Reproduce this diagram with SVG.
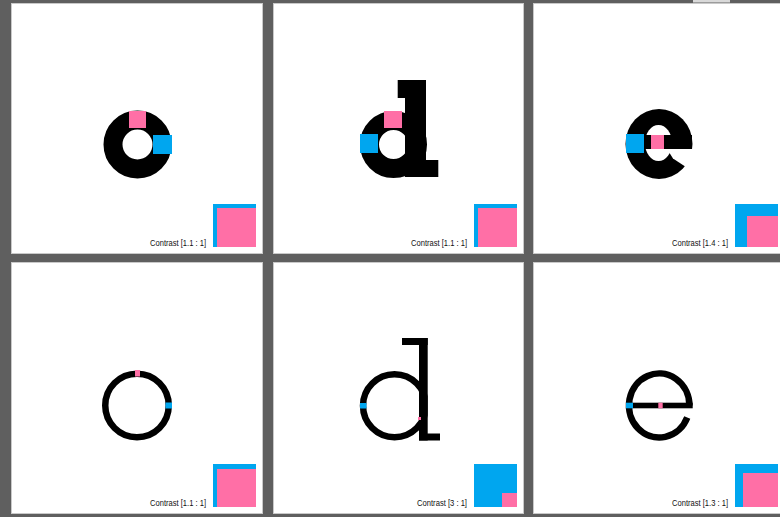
<svg xmlns="http://www.w3.org/2000/svg" width="780" height="517" viewBox="0 0 780 517">
  <style>
    .panel { fill: #ffffff; stroke: #c9c9c9; stroke-width: 1; }
    .ink { fill: #000000; }
    .ring { fill: none; stroke: #000000; }
    .pink { fill: #ff6fa6; }
    .blue { fill: #00a6ef; }
    .lbl { font-family: "Liberation Sans", Arial, sans-serif; font-size: 8.6px; fill: #111111; text-anchor: end; }
  </style>
  <defs>
    <clipPath id="clipD">
      <rect x="350" y="330" width="77.7" height="120"/>
    </clipPath>
  </defs>
  <rect x="0" y="0" width="780" height="517" fill="#5f5f5f"/>
  <rect x="693" y="0" width="37" height="2.5" fill="#d9d9d9"/>

  <g id="panel-bold-o">
    <rect class="panel" x="11.5" y="3.5" width="251" height="250"/>
    <circle class="ring" cx="137.5" cy="144.5" r="24.5" stroke-width="19"/>
    <rect class="pink" x="129" y="111" width="17" height="17"/>
    <rect class="blue" x="153" y="135" width="19" height="19"/>
    <rect class="blue" x="213" y="204" width="43" height="43"/>
    <rect class="pink" x="217" y="208" width="39" height="39"/>
    <text class="lbl" x="206" y="246" textLength="56" lengthAdjust="spacingAndGlyphs">Contrast [1.1 : 1]</text>
  </g>

  <g id="panel-bold-d">
    <rect class="panel" x="273.5" y="3.5" width="250" height="250"/>
    <circle class="ring" cx="393.5" cy="144.5" r="24" stroke-width="19"/>
    <rect class="ink" x="397.7" y="80" width="28.3" height="18"/>
    <rect class="ink" x="405" y="80" width="21" height="97"/>
    <rect class="ink" x="405" y="160" width="33.3" height="17"/>
    <rect class="pink" x="384" y="111" width="18" height="17"/>
    <rect class="blue" x="360" y="134" width="18" height="19"/>
    <rect class="blue" x="474" y="204" width="43" height="43"/>
    <rect class="pink" x="478" y="208" width="39" height="39"/>
    <text class="lbl" x="467" y="246" textLength="56" lengthAdjust="spacingAndGlyphs">Contrast [1.1 : 1]</text>
  </g>

  <g id="panel-bold-e">
    <rect class="panel" x="533.5" y="3.5" width="250" height="250"/>
    <ellipse class="ink" cx="659" cy="144" rx="33.5" ry="35"/>
    <ellipse cx="658.5" cy="143" rx="13.5" ry="18" fill="#ffffff"/>
    <polygon points="667,149 700,149 700,168 689,169 673,158.5" fill="#ffffff"/>
    <rect class="ink" x="626" y="135" width="66" height="14"/>
    <rect class="pink" x="651" y="135" width="13" height="14"/>
    <rect class="blue" x="626" y="134" width="18" height="19"/>
    <rect class="blue" x="735" y="204" width="43" height="43"/>
    <rect class="pink" x="747" y="216" width="31" height="31"/>
    <text class="lbl" x="728" y="246" textLength="56" lengthAdjust="spacingAndGlyphs">Contrast [1.4 : 1]</text>
  </g>

  <g id="panel-light-o">
    <rect class="panel" x="11.5" y="262.5" width="251" height="251"/>
    <circle class="ring" cx="137" cy="405.5" r="31.75" stroke-width="6.5"/>
    <rect class="pink" x="135" y="370" width="5" height="6.5"/>
    <rect class="blue" x="165.5" y="402.5" width="6.5" height="6"/>
    <rect class="blue" x="213" y="464" width="43" height="43"/>
    <rect class="pink" x="217" y="469" width="39" height="38"/>
    <text class="lbl" x="206" y="506" textLength="56" lengthAdjust="spacingAndGlyphs">Contrast [1.1 : 1]</text>
  </g>

  <g id="panel-light-d">
    <rect class="panel" x="273.5" y="262.5" width="250" height="251"/>
    <circle class="ring" cx="394.5" cy="405.7" r="31.5" stroke-width="6.5" clip-path="url(#clipD)"/>
    <rect class="ink" x="419" y="338" width="8.7" height="102.5"/>
    <rect class="ink" x="402" y="338" width="25.7" height="7"/>
    <rect class="ink" x="419" y="433.5" width="21" height="7"/>
    <rect class="blue" x="360" y="403" width="6.5" height="5.5"/>
    <rect class="pink" x="418" y="417" width="3" height="3"/>
    <rect class="blue" x="474" y="464" width="43" height="43"/>
    <rect class="pink" x="502" y="493" width="15" height="14"/>
    <text class="lbl" x="467" y="506" textLength="50" lengthAdjust="spacingAndGlyphs">Contrast [3 : 1]</text>
  </g>

  <g id="panel-light-e">
    <rect class="panel" x="533.5" y="262.5" width="250" height="251"/>
    <path class="ring" stroke-width="6.5" d="M 687.25 417.5 A 30.25 32 0 1 1 689.45 405.5"/>
    <rect class="ink" x="626" y="402.7" width="66.7" height="5.6"/>
    <rect class="blue" x="626" y="402.7" width="7" height="5.6"/>
    <rect class="pink" x="658.3" y="402.7" width="4.4" height="5.6"/>
    <rect class="blue" x="735" y="464" width="43" height="43"/>
    <rect class="pink" x="743" y="473" width="35" height="34"/>
    <text class="lbl" x="728" y="506" textLength="56" lengthAdjust="spacingAndGlyphs">Contrast [1.3 : 1]</text>
  </g>
</svg>
